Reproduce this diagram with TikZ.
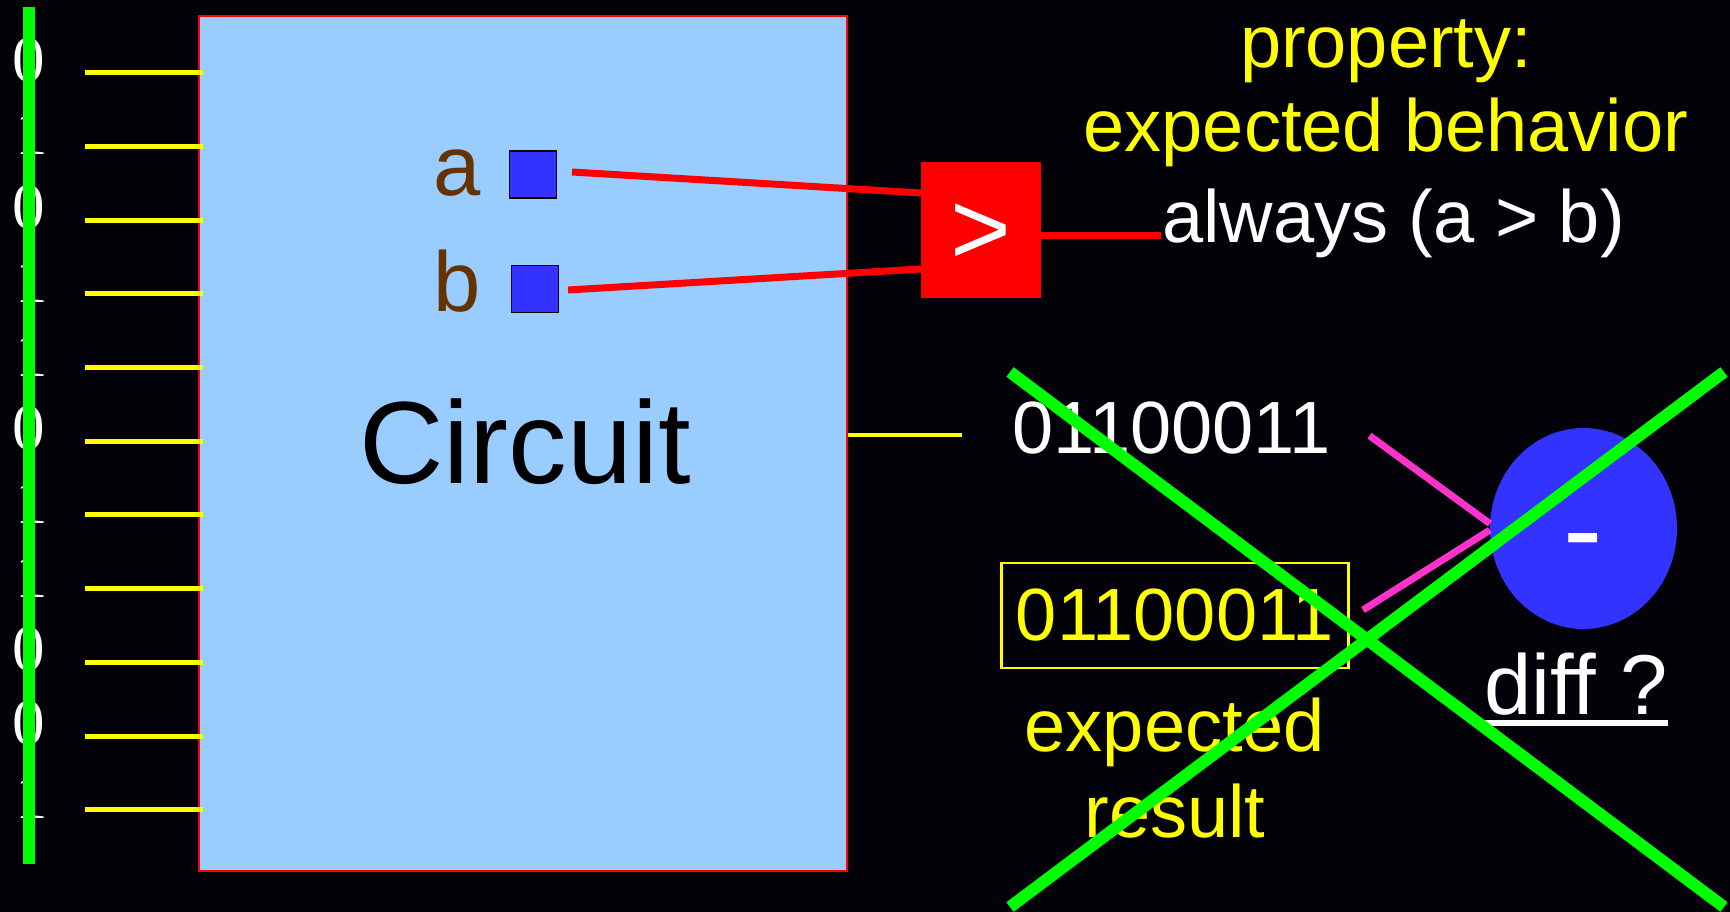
\documentclass[tikz,border=0pt]{standalone}
\usepackage{fontspec}
\setmainfont{Liberation Sans}
\newfontfamily\bitfont{Liberation Serif}
\usetikzlibrary{shapes.geometric}
\definecolor{bgcol}{RGB}{2,2,8}
\definecolor{circfill}{RGB}{153,204,255}
\definecolor{sigbrown}{RGB}{102,51,0}
\definecolor{portblue}{RGB}{51,51,255}
\definecolor{diffpink}{RGB}{255,51,204}
\definecolor{crossgreen}{RGB}{0,255,0}
\definecolor{sigyellow}{RGB}{255,255,0}
\definecolor{wirered}{RGB}{255,0,0}
\newcommand{\fsz}[1]{\fontsize{#1}{#1}\selectfont}
\begin{document}
\begin{tikzpicture}[x=1pt,y=-1pt,
  txt/.style={inner sep=0pt, anchor=base},
  bitlbl/.style={txt, text=white, font=\bitfont\fsz{65}},
  inwire/.style={draw=sigyellow, line width=5pt},
  redwire/.style={draw=wirered, line width=7pt},
  pinkwire/.style={draw=diffpink, line width=7pt},
  cross/.style={draw=crossgreen, line width=12pt},
  portbox/.style={draw=black, line width=1.5pt, fill=portblue, minimum size=47pt, inner sep=0pt},
  portlbl/.style={txt, text=sigbrown, font=\fsz{85}},
  big/.style={txt, font=\fsz{74}}]

% canvas
\fill[bgcol] (0,0) rectangle (1730,912);
\useasboundingbox (0,0) rectangle (1730,912);

% the circuit block
\node[draw=wirered, line width=2pt, fill=circfill, minimum width=648pt, minimum height=855pt, inner sep=0pt] (circ) at (523,443.5) {};
\node[txt, text=black, font=\fsz{117}] (ctext) at (525,483) {Circuit};

% input vector and input wires
\foreach \b/\bx [count=\i from 0] in {0/29,1/32,0/29,1/32,1/32,0/29,1/32,1/32,0/29,0/29,1/32} {
  \coordinate (in\i) at (85,{72.7+73.7*\i});
  \coordinate (inend\i) at (203,{72.7+73.7*\i});
  \draw[inwire] (in\i) -- (inend\i);
  \node[bitlbl] (bit\i) at (\bx,{81.2+73.7*\i}) {\b};
}

% internal signals a and b
\node[portbox] (pa) at (533,174.5) {};
\node[portbox] (pb) at (535,289) {};
\node[portlbl] (la) at (457,196) {a};
\node[portlbl] (lb) at (457,311.5) {b};

% comparator
\node[fill=wirered, minimum width=120pt, minimum height=136pt, inner sep=0pt] (cmp) at (981,230) {};
\node[txt, text=white, font=\fsz{104}] (gt) at (981,265) {>};
\coordinate (wa) at (572,172);
\coordinate (wb) at (568,290);
\coordinate (ca) at (921,193);
\coordinate (cb) at (921,269);
\draw[redwire] (wa) -- (ca);
\draw[redwire] (wb) -- (cb);
\coordinate (wo) at (1161,235.5);
\draw[redwire] (cmp.east |- wo) -- (wo);

% property text
\node[big, text=sigyellow] (prop1) at (1386,68) {property:};
\node[big, text=sigyellow] (prop2) at (1386,152) {expected behavior};
\node[big, text=white, anchor=base west] (always) at (1162,243) {always (a > b)};

% output and expected result
\coordinate (wout) at (962,435);
\draw[draw=sigyellow, line width=4.5pt] (circ.east |- wout) -- (wout);
\node[big, text=white, anchor=base west] (res) at (1012,453) {01100011};
\node[draw=sigyellow, line width=2.5pt, minimum width=347pt, minimum height=105pt, inner sep=0pt, text=sigyellow, font=\fsz{74}] (exp) at (1175,615.5) {01100011};
\node[big, text=sigyellow] (exp1) at (1175,751.5) {expected};
\node[big, text=sigyellow] (exp2) at (1175,837) {result};

% difference unit
\node[ellipse, fill=portblue, minimum width=187pt, minimum height=201pt, inner sep=0pt] (diff) at (1583.5,528.5) {};
\node[txt, text=white, font=\fsz{118}] (minus) at (1583,569) {-};
\coordinate (p1) at (1369.5,435.7);
\coordinate (p2) at (1363,610);
\draw[pinkwire] (p1) -- (diff.177);
\draw[pinkwire] (p2) -- (diff.181);
\node[txt, text=white, font=\fsz{85}] (dq) at (1576,714) {diff ?};
\draw[draw=white, line width=6pt] ([yshift=-8.5pt]dq.base west) -- ([yshift=-8.5pt]dq.base east);

% strike-through marks
\coordinate (vt) at (29,7);
\coordinate (vb) at (29,864);
\draw[cross] (vt) -- (vb);
\coordinate (xa) at (1010,372);
\coordinate (xb) at (1724,907);
\coordinate (xc) at (1010,907);
\coordinate (xd) at (1724,372);
\draw[cross] (xa) -- (xb);
\draw[cross] (xc) -- (xd);
\end{tikzpicture}
\end{document}
